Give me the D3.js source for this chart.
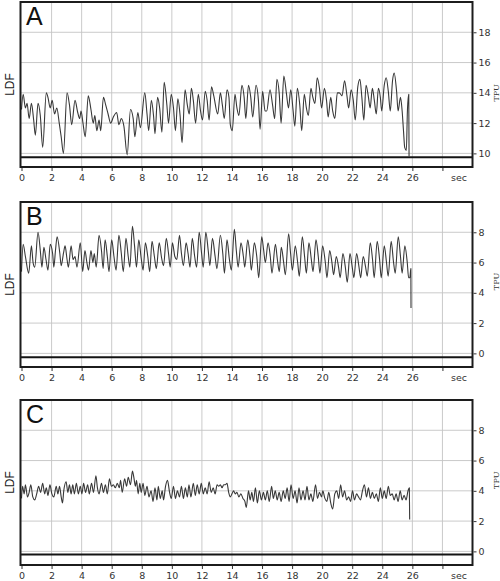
<!DOCTYPE html>
<html>
<head>
<meta charset="utf-8">
<script src="https://cdn.jsdelivr.net/npm/d3@7"></script>
<style>
  body { margin: 0; background: #fff; }
</style>
</head>
<body>
<svg id="chart" width="500" height="581"></svg>
<script>
// ---- data (sec, TPU) ----
const panelLetters = ['A', 'B', 'C'];
const baselineLevels = [9.75, -0.25, -0.2];
const xTickValues = [0, 2, 4, 6, 8, 10, 12, 14, 16, 18, 20, 22, 24, 26, 28];
const xTickLabels = ['0', '2', '4', '6', '8', '10', '12', '14', '16', '18', '20', '22', '24', '26', ''];
const yTicksA = [10, 12, 14, 16, 18];
const yTicksBC = [0, 2, 4, 6, 8];

const timeA = [0.00,0.11,0.26,0.37,0.51,0.66,0.81,0.92,1.10,1.25,1.41,1.65,1.76,1.91,2.04,2.20,2.35,2.51,2.64,2.79,3.03,3.19,3.34,3.56,3.74,3.87,3.96,4.09,4.24,4.44,4.62,4.77,4.88,5.01,5.16,5.27,5.45,5.60,5.76,5.93,6.11,6.33,6.48,6.64,6.81,7.03,7.25,7.43,7.54,7.74,7.91,8.20,8.35,8.46,8.64,8.79,8.88,9.05,9.19,9.34,9.49,9.67,9.78,9.96,10.11,10.24,10.40,10.55,10.68,10.88,11.03,11.16,11.30,11.43,11.58,11.76,11.91,12.04,12.22,12.35,12.48,12.64,12.79,13.05,
  13.23,13.36,13.49,13.67,13.80,13.89,14.02,14.20,14.33,14.46,14.66,14.81,14.92,15.10,15.25,15.38,15.60,15.76,15.87,16.04,16.20,16.31,16.53,16.70,16.84,16.99,17.14,17.27,17.45,17.63,17.76,17.91,18.07,18.18,18.35,18.51,18.64,18.81,18.95,19.08,19.25,19.38,19.52,19.67,19.82,19.96,20.15,20.29,20.40,20.57,20.70,20.84,21.01,21.14,21.32,21.49,21.65,21.76,21.93,22.07,22.20,22.37,22.51,22.64,22.77,22.92,23.08,23.19,23.34,23.47,23.60,23.74,23.87,23.96,24.13,24.26,24.40,24.53,24.68,24.79,24.95,25.05,25.21,25.32,25.41,25.49,25.60,25.67,25.76,25.78];
const ldfA = [12.9,13.9,13.0,13.3,12.3,13.3,12.2,11.2,13.3,12.5,10.4,14.0,13.7,13.0,13.5,12.6,13.0,12.0,11.1,10.0,14.0,13.2,11.9,13.5,12.7,12.3,12.8,12.0,11.1,13.8,12.9,12.0,12.5,11.5,12.2,11.5,13.7,13.2,12.6,12.0,12.4,12.7,11.9,12.3,11.8,9.9,12.9,12.3,11.1,12.7,11.7,14.0,12.6,11.5,13.5,12.4,11.3,13.7,13.0,11.4,14.7,13.2,12.0,13.9,13.0,11.5,13.6,12.5,10.7,14.2,13.2,12.6,14.3,13.5,12.0,13.9,12.8,12.2,14.1,13.5,12.2,14.4,13.8,12.6,
  14.0,13.2,12.3,14.2,13.7,11.9,11.5,13.9,13.0,12.5,14.5,13.7,12.3,14.5,13.7,12.4,14.5,13.5,11.6,14.1,12.8,12.8,14.2,13.2,12.3,14.9,14.0,12.0,15.1,13.9,13.0,14.2,12.8,11.8,14.3,13.2,11.5,13.9,13.0,12.5,14.3,13.7,13.3,15.0,14.3,13.0,14.3,13.5,12.4,13.7,12.8,12.3,14.0,14.0,13.8,14.8,13.8,13.0,14.2,13.5,12.2,14.4,14.9,13.7,12.2,14.5,13.7,13.0,14.3,13.5,12.6,14.3,13.7,12.8,14.5,15.0,14.1,12.8,14.8,15.3,14.1,12.8,13.7,12.8,11.5,10.4,10.2,12.8,13.9,9.8];

const timeB = [0.00,0.11,0.26,0.48,0.66,0.77,0.88,1.10,1.25,1.36,1.49,1.63,1.76,1.91,2.07,2.15,2.26,2.37,2.55,2.64,2.79,2.90,3.03,3.12,3.30,3.43,3.56,3.69,3.91,4.07,4.22,4.35,4.46,4.62,4.75,4.84,4.97,5.16,5.32,5.43,5.56,5.71,5.82,6.00,6.15,6.29,6.48,6.64,6.77,6.95,7.10,7.21,7.38,7.52,7.65,7.80,7.96,8.09,8.24,8.40,8.53,8.68,8.84,8.97,9.16,9.32,9.45,9.63,9.78,9.89,10.04,10.20,10.33,10.51,10.64,10.77,10.95,11.08,11.21,11.36,11.52,11.65,11.82,11.98,12.09,12.26,12.42,12.53,12.70,12.88,13.00,
  13.23,13.39,13.50,13.67,13.83,13.96,14.16,14.29,14.41,14.60,14.76,14.85,15.05,15.20,15.29,15.49,15.65,15.78,15.98,16.11,16.22,16.40,16.55,16.66,16.89,17.02,17.15,17.28,17.44,17.55,17.77,17.90,18.02,18.21,18.37,18.48,18.68,18.83,18.95,19.12,19.28,19.39,19.59,19.74,19.85,20.03,20.21,20.32,20.50,20.65,20.76,20.94,21.09,21.20,21.38,21.54,21.67,21.85,22.00,22.11,22.29,22.45,22.56,22.73,22.89,23.00,23.20,23.35,23.46,23.66,23.82,23.93,24.13,24.28,24.39,24.59,24.75,24.86,25.06,25.21,25.32,25.50,25.66,25.75,25.83,25.90,25.91];
const ldfB = [5.4,7.2,6.4,5.3,7.1,6.0,5.7,8.0,6.8,5.7,7.0,6.2,5.5,7.2,6.6,5.7,6.8,7.7,6.6,5.8,6.6,7.1,6.2,5.7,7.1,6.2,6.4,5.7,7.3,5.4,6.8,6.0,5.5,6.8,6.0,6.6,5.7,7.8,6.8,5.6,7.5,6.4,5.4,7.5,6.4,5.5,7.8,6.6,5.4,7.6,6.4,5.7,8.4,7.1,5.7,7.5,6.3,5.5,7.3,6.4,5.4,7.4,6.4,5.6,7.3,6.3,5.8,7.6,6.6,5.7,7.3,6.4,6.2,7.8,6.6,5.8,7.3,6.6,5.7,7.6,6.4,5.7,8.0,6.6,5.7,8.0,6.8,5.8,7.6,6.4,5.6,
  7.8,6.6,5.3,7.5,6.2,5.5,8.2,6.8,5.7,7.3,6.4,5.7,7.5,6.4,5.5,7.3,6.4,5.0,7.7,6.8,6.0,7.3,6.4,5.3,7.2,6.2,5.4,7.0,6.0,5.2,7.9,6.6,5.5,7.1,6.0,5.1,7.7,6.4,5.3,7.3,6.2,5.4,7.5,6.4,5.3,7.1,6.0,5.0,6.8,6.0,5.2,6.4,5.7,5.0,6.6,5.7,4.7,6.6,5.7,5.0,6.6,5.7,5.0,6.4,5.7,5.1,7.3,6.2,5.0,7.4,6.2,5.0,7.1,6.0,5.1,7.4,6.0,5.3,7.7,6.4,5.3,7.1,6.0,5.0,5.0,5.6,3.0];

const timeC = [0.00,0.07,0.18,0.26,0.40,0.51,0.62,0.75,0.88,1.01,1.14,1.27,1.41,1.54,1.65,1.76,1.89,2.02,2.15,2.31,2.42,2.53,2.64,2.73,2.81,2.97,3.08,3.19,3.30,3.41,3.52,3.65,3.78,3.91,4.02,4.13,4.26,4.40,4.51,4.66,4.79,4.95,5.05,5.16,5.32,5.45,5.58,5.71,5.85,5.98,6.11,6.24,6.37,6.51,6.59,6.70,6.86,6.99,7.10,7.25,7.38,7.47,7.58,7.65,7.76,7.87,7.96,8.09,8.20,8.35,8.48,8.62,8.75,8.88,9.01,9.10,9.23,9.36,9.45,9.58,9.71,9.85,9.96,10.11,10.24,10.37,10.51,10.64,10.77,10.90,11.03,11.14,11.27,11.43,11.56,11.69,11.82,11.96,12.09,12.22,12.35,12.48,12.62,12.75,12.88,
  13.01,13.12,13.23,13.34,13.45,13.56,13.67,13.78,13.89,14.00,14.11,14.22,14.33,14.46,14.59,14.73,14.86,14.95,15.10,15.21,15.32,15.43,15.56,15.69,15.82,15.96,16.09,16.22,16.35,16.48,16.64,16.75,16.88,17.01,17.14,17.27,17.41,17.54,17.67,17.80,17.93,18.07,18.20,18.33,18.46,18.59,18.73,18.86,18.99,19.12,19.25,19.38,19.56,19.69,19.82,19.96,20.04,20.18,20.31,20.44,20.57,20.70,20.84,20.97,21.10,21.23,21.36,21.49,21.63,21.76,21.89,22.02,22.15,22.29,22.42,22.55,22.68,22.81,22.95,23.08,23.21,23.34,23.47,23.60,23.74,23.87,24.00,24.13,24.26,24.40,24.53,24.66,24.79,24.92,25.05,25.19,25.32,25.45,25.58,25.71,25.80,25.82];
const ldfC = [3.5,4.3,3.8,4.4,3.6,3.9,4.4,3.6,3.4,3.8,4.3,3.9,4.5,3.8,4.2,3.7,4.4,3.8,3.6,4.3,3.8,4.3,3.6,3.2,4.0,4.6,3.9,4.4,3.8,4.4,3.8,4.5,3.8,4.3,3.8,4.5,3.9,4.4,3.8,4.5,3.9,5.0,4.2,3.8,4.5,3.9,4.4,3.8,4.8,4.3,4.4,4.2,4.5,4.2,4.7,3.9,4.8,4.3,4.9,4.4,5.3,4.9,4.3,4.7,3.8,4.5,3.9,4.5,3.7,4.3,3.6,4.0,3.3,4.2,3.4,4.3,3.5,4.0,3.4,4.3,4.7,3.9,3.5,4.3,3.5,4.0,3.6,4.3,3.5,4.2,3.6,4.4,3.6,4.5,3.7,4.4,3.8,4.5,3.8,4.2,3.8,4.6,3.9,4.2,3.8,
  4.4,4.3,4.4,4.2,4.4,4.4,4.5,3.9,3.6,3.8,4.0,3.8,3.9,3.6,3.8,3.5,3.3,2.9,4.0,3.4,3.9,3.3,4.2,3.2,4.0,3.4,3.9,3.4,4.0,3.3,4.3,3.5,4.0,3.4,3.9,3.3,4.0,3.5,4.2,3.3,4.4,3.5,4.0,3.2,4.2,3.4,4.0,3.4,4.3,3.4,3.8,3.3,4.4,3.5,3.9,3.6,4.0,3.5,3.3,3.9,3.2,2.8,3.8,4.0,3.5,4.4,3.6,4.0,3.4,3.6,3.3,4.0,3.4,3.8,3.6,3.4,4.0,4.4,3.6,4.2,3.5,3.9,3.5,3.8,3.3,4.2,3.5,4.0,3.5,4.3,3.7,3.8,3.4,3.8,3.3,4.0,3.4,3.7,3.4,4.0,4.2,2.1];

// ---- layout ----
const svg = d3.select('#chart');
const panelTop = [2, 202, 400];
const panelH = 165;
const yDomains = [[9.1, 20], [-0.9, 10], [-0.9, 10]];
const yTickSets = [yTicksA, yTicksBC, yTicksBC];
const tpuAt = [14, 4.75, 4.7];   // where the TPU unit label sits on each right axis
const traces = [[timeA, ldfA], [timeB, ldfB], [timeC, ldfC]];

const x = d3.scaleLinear().domain([0, 30]).range([21.5, 472.5]);
const left = x(0) - 1, right = x(30);
const tickFont = 'DejaVu Sans, sans-serif';

panelLetters.forEach((letter, i) => {
  const top = panelTop[i], bottom = top + panelH;
  const y = d3.scaleLinear().domain(yDomains[i]).range([bottom, top]);
  const g = svg.append('g').attr('class', 'panel panel-' + letter);

  // grid
  const grid = g.append('g').attr('class', 'grid')
      .attr('stroke', '#c4c4c4').attr('stroke-width', 0.9);
  grid.selectAll('line.vx')
    .data(xTickValues.filter(d => d > 0))
    .enter().append('line')
      .attr('class', 'vx')
      .attr('x1', d => x(d)).attr('x2', d => x(d))
      .attr('y1', top).attr('y2', bottom);
  grid.selectAll('line.hy')
    .data(yTickSets[i])
    .enter().append('line')
      .attr('class', 'hy')
      .attr('x1', left).attr('x2', right)
      .attr('y1', d => y(d)).attr('y2', d => y(d));

  // baseline (zero level of the recorder)
  g.append('line')
    .attr('x1', left).attr('x2', right)
    .attr('y1', y(baselineLevels[i])).attr('y2', y(baselineLevels[i]))
    .attr('stroke', '#141414').attr('stroke-width', 2);

  // trace
  const [ts, vs] = traces[i];
  const n = Math.min(ts.length, vs.length);
  const pts = d3.range(n).map(k => [ts[k], vs[k]]);
  const line = d3.line()
    .x(d => x(d[0]))
    .y(d => y(d[1]))
    .curve(d3.curveMonotoneX);
  g.append('path')
    .datum(pts)
    .attr('d', line)
    .attr('fill', 'none')
    .attr('stroke', '#383838')
    .attr('stroke-width', 1.1)
    .attr('stroke-linejoin', 'round');

  // frame
  g.append('rect')
    .attr('x', left).attr('y', top)
    .attr('width', right - left).attr('height', panelH)
    .attr('fill', 'none')
    .attr('stroke', '#1c1c1c').attr('stroke-width', 2);

  // bottom axis
  const xAxis = g.append('g')
    .attr('transform', 'translate(0,' + (bottom + 1) + ')')
    .call(d3.axisBottom(x).tickValues(xTickValues)
      .tickFormat((d, k) => xTickLabels[k]).tickSize(3).tickPadding(3));
  xAxis.select('.domain').remove();
  xAxis.selectAll('line').attr('stroke', '#333');
  xAxis.selectAll('text')
    .style('font-family', tickFont)
    .style('font-size', '9.5px')
    .attr('fill', '#333');
  g.append('text')
    .attr('x', x(29.1)).attr('y', bottom + 14)
    .attr('text-anchor', 'middle')
    .style('font-family', tickFont)
    .style('font-size', '9.5px')
    .attr('fill', '#333')
    .text('sec');

  // right axis
  const yAxis = g.append('g')
    .attr('transform', 'translate(' + (right + 1) + ',0)')
    .call(d3.axisRight(y).tickValues(yTickSets[i]).tickSize(3).tickPadding(2));
  yAxis.select('.domain').remove();
  yAxis.selectAll('line').attr('stroke', '#333');
  yAxis.selectAll('text')
    .style('font-family', tickFont)
    .style('font-size', '9.5px')
    .attr('fill', '#333');

  // axis titles
  g.append('text')
    .attr('transform', 'translate(496,' + y(tpuAt[i]) + ') rotate(-90)')
    .attr('text-anchor', 'middle')
    .attr('dy', '0.35em')
    .style('font-family', 'DejaVu Serif, serif')
    .style('font-size', '8px')
    .attr('fill', '#333')
    .text('TPU');
  g.append('text')
    .attr('transform', 'translate(10,' + (top + panelH / 2) + ') rotate(-90)')
    .attr('text-anchor', 'middle')
    .attr('dy', '0.35em')
    .style('font-family', 'Liberation Sans, Arial, sans-serif')
    .style('font-size', '12px')
    .attr('fill', '#222')
    .text('LDF');

  // panel letter
  g.append('text')
    .attr('x', 26).attr('y', top + 23)
    .style('font-family', 'Liberation Sans, Arial, sans-serif')
    .style('font-size', '25px')
    .attr('fill', '#111')
    .text(letter);
});
</script>
</body>
</html>
